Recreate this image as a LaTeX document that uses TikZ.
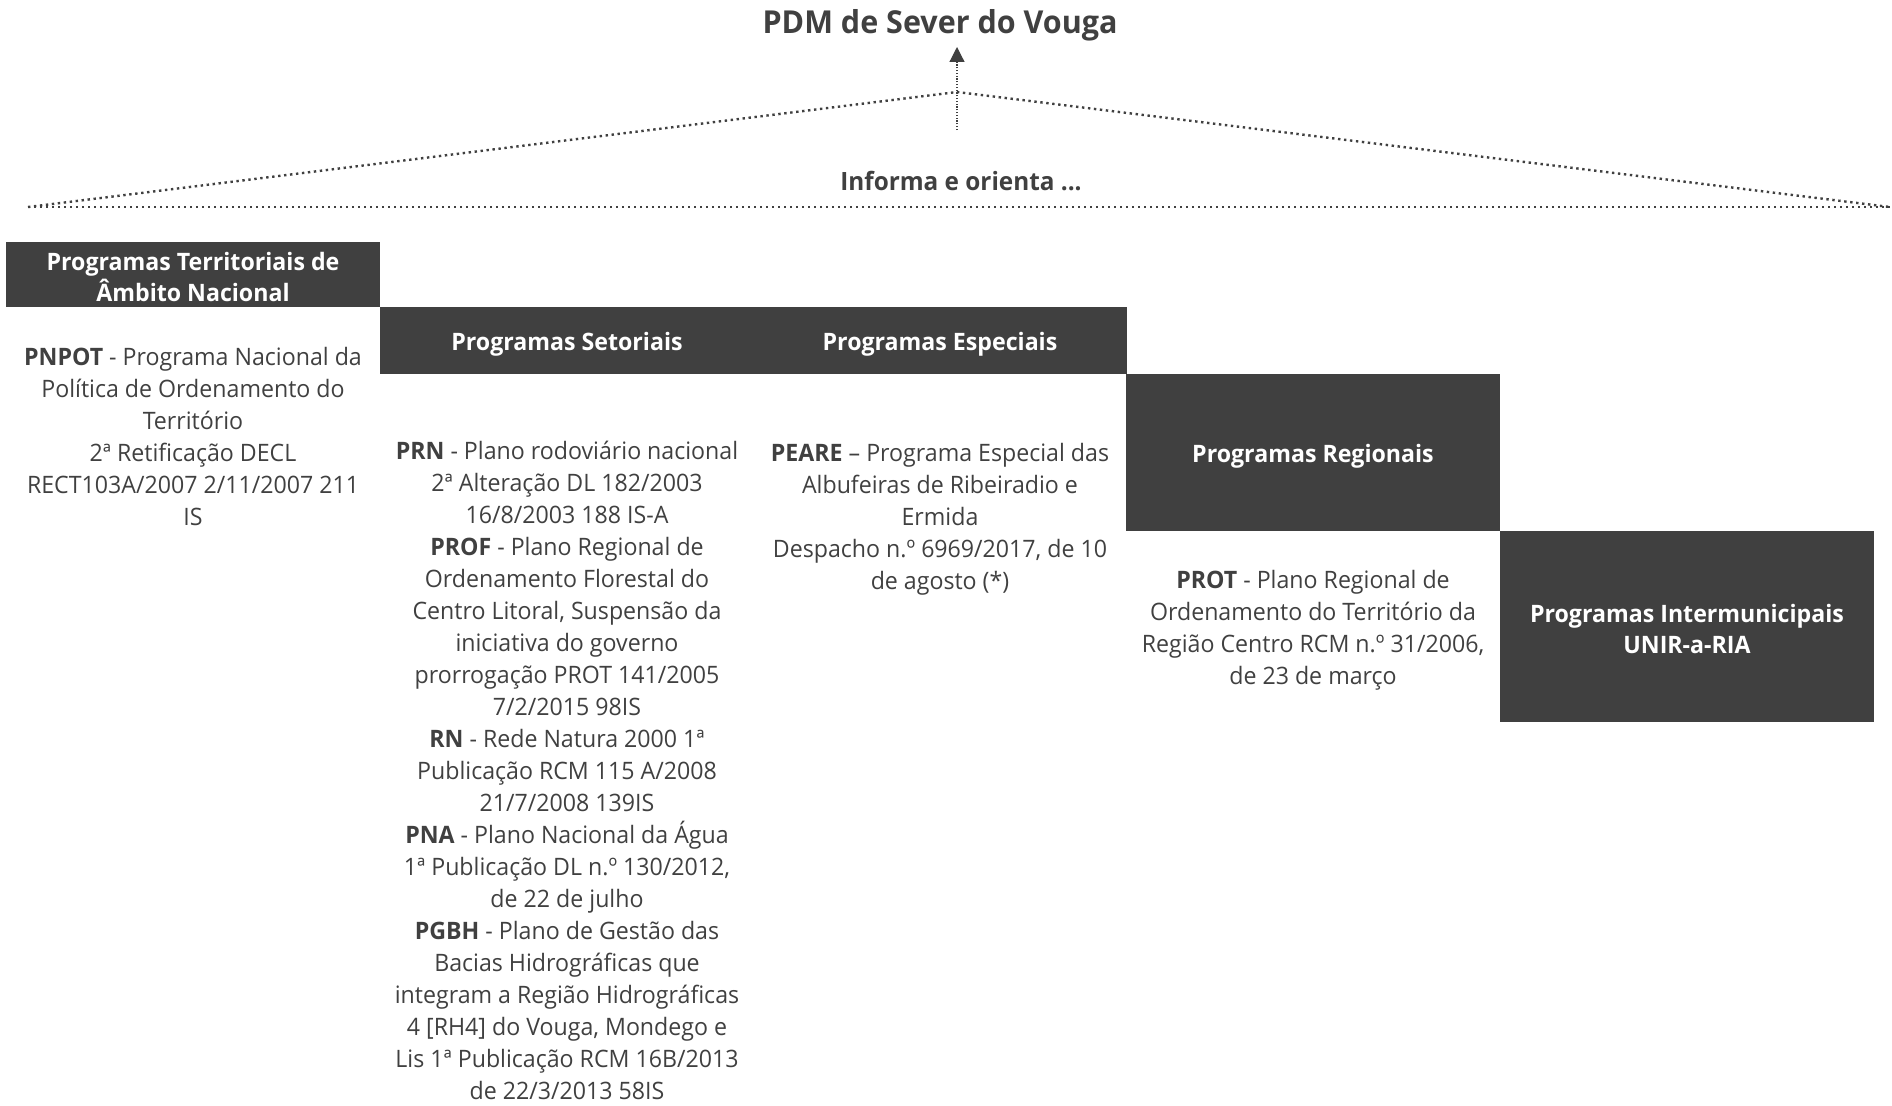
\documentclass[tikz,border=0pt]{standalone}
\usepackage{fontspec}
\setmainfont{Open Sans}[FakeStretch=0.965]
\usetikzlibrary{arrows.meta}
\definecolor{dgray}{HTML}{404040}

\begin{document}
\begin{tikzpicture}[x=0.5pt,y=-0.5pt]
    \tikzstyle{pbox} = [fill=dgray, text=white, font=\fontsize{12}{15.5}\selectfont\bfseries, align=center, minimum width=187pt, inner sep=0pt, text height=10pt, text depth=0pt]
    \tikzstyle{pbox2} = [pbox, text height=27pt]
    \tikzstyle{ptext} = [text=dgray, font=\fontsize{12}{16}\selectfont, align=center, inner sep=0pt, anchor=base]
    \tikzstyle{dline} = [dgray, line width=1.2pt, dash pattern=on 1.2pt off 1.8pt]
    \useasboundingbox (0,0) rectangle (1892,1105);
    % title and arrow
    \node[text=dgray, font=\fontsize{15.8}{19}\selectfont\bfseries, anchor=base, inner sep=0pt] (title) at (940,33) {PDM de Sever do Vouga};
    \node[text=dgray, font=\fontsize{12.6}{16}\selectfont\bfseries, anchor=base, inner sep=0pt] (inform) at (961,190) {Informa e orienta ...};
    \coordinate (lend) at (28,207);
    \coordinate (rend) at (1890,207);
    \coordinate (apex) at (957,92);
    \coordinate (abase) at (957,130);
    \draw[dline] (lend) -- (apex) -- (rend);
    \draw[dline] (lend) -- (rend);
    \draw[dgray, line width=0.6pt, dash pattern=on 0.6pt off 0.8pt, -{Triangle[width=7.5pt,length=7.5pt]}, shorten >=3pt] (abase) -- (abase |- title.south);
    % headings
    \node[pbox2, minimum height=32.5pt] (pnac) at (193,274) {Programas Territoriais de\\Âmbito Nacional};
    \node[pbox, minimum height=33.5pt] (pset) at (567,340) {Programas Setoriais};
    \node[pbox, minimum height=33.5pt] (pesp) at (940,340) {Programas Especiais};
    \node[pbox, minimum height=78.5pt] (preg) at (1313,452) {Programas Regionais};
    \node[pbox2, minimum height=95.5pt] (pint) at (1687,626) {Programas Intermunicipais\\UNIR-a-RIA};
    % texts (placed at the baseline of their last line)
    \node[ptext] (tnac) at (193,525) {\textbf{PNPOT} - Programa Nacional da\\Política de Ordenamento do\\Território\\2ª Retificação DECL\\RECT103A/2007 2/11/2007 211\\IS};
    \node[ptext] (tset) at (567,1099) {\textbf{PRN} - Plano rodoviário nacional\\2ª Alteração DL 182/2003\\16/8/2003 188 IS-A\\\textbf{PROF} - Plano Regional de\\Ordenamento Florestal do\\Centro Litoral, Suspensão da\\iniciativa do governo\\prorrogação PROT 141/2005\\7/2/2015 98IS\\\textbf{RN} - Rede Natura 2000 1ª\\Publicação RCM 115 A/2008\\21/7/2008 139IS\\\textbf{PNA} - Plano Nacional da Água\\1ª Publicação DL n.º 130/2012,\\de 22 de julho\\\textbf{PGBH} - Plano de Gestão das\\Bacias Hidrográficas que\\integram a Região Hidrográficas\\4 [RH4] do Vouga, Mondego e\\Lis 1ª Publicação RCM 16B/2013\\de 22/3/2013 58IS};
    \node[ptext] (tesp) at (940,589) {\textbf{PEARE} – Programa Especial das\\Albufeiras de Ribeiradio e\\Ermida\\Despacho n.º 6969/2017, de 10\\de agosto (*)};
    \node[ptext] (treg) at (1313,684) {\textbf{PROT} - Plano Regional de\\Ordenamento do Território da\\Região Centro RCM n.º 31/2006,\\de 23 de março};
\end{tikzpicture}
\end{document}
